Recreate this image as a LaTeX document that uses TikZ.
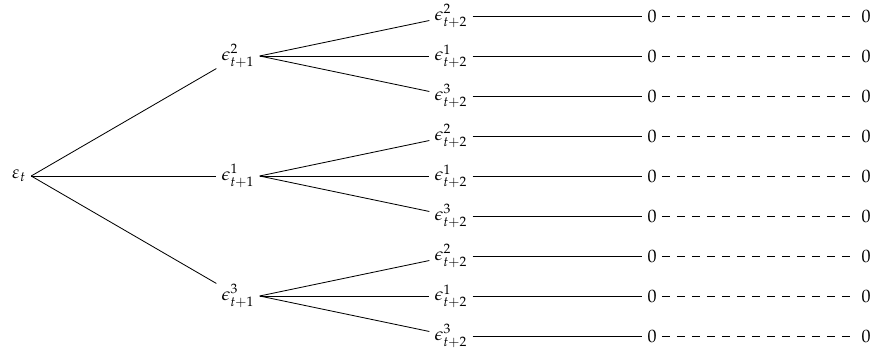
\documentclass[tikz,border=0pt]{standalone}
\usepackage{mathpazo}
\usepackage{tikz}
\usetikzlibrary{positioning}

\begin{document}
\begin{tikzpicture}[
  x=0.6pt,y=-0.6pt,
  every node/.style={inner sep=3pt,font=\fontsize{10.8pt}{13pt}\selectfont},
  branch/.style={black,line width=0.5pt},
  tail/.style={black,line width=0.5pt,dash pattern=on 4.8pt off 4.2pt}
]
\useasboundingbox (0,0) rectangle (873,353);
\node (root) at (19,176) {$\varepsilon_t$};
% first stage
\foreach \g/\p in {2/56,1/176,3/296}{
  \node (n\g) at (238,\p) {$\epsilon^{\g}_{t+1}$};
  \draw[branch] (root.east) -- (n\g);
  % second stage and tails
  \foreach \c/\d in {2/-40,1/0,3/40}{
    \node (m\g\c) at (451,{\p+\d}) {$\epsilon^{\c}_{t+2}$};
    \node (z\g\c) at (652,{\p+\d}) {$0$};
    \node (w\g\c) at (866,{\p+\d}) {$0$};
    \draw[branch] (n\g.east) -- (m\g\c);
    \draw[branch] (m\g\c) -- (z\g\c);
    \draw[tail] (z\g\c) -- (w\g\c);
  }
}
\end{tikzpicture}
\end{document}
